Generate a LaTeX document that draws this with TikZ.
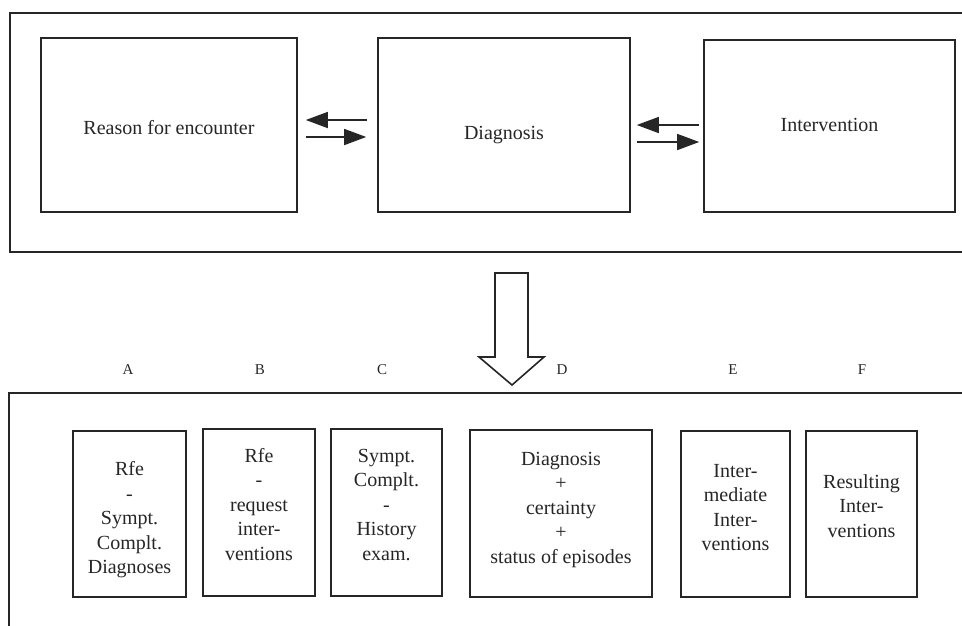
\documentclass[tikz,border=0pt]{standalone}
\usepackage{fontspec}
\setmainfont{Liberation Serif}
\usetikzlibrary{arrows.meta,calc}
\definecolor{ink}{HTML}{262626}
\newcommand\mvdown[2]{\raisebox{-#1}[\height][\depth]{\begin{tabular}{@{}c@{}}#2\end{tabular}}}
\begin{document}
\begin{tikzpicture}[x=1pt,y=-1pt,
  frame/.style={draw=ink,line width=2.8pt},
  bigbox/.style={draw=ink,line width=1.6pt,inner sep=0pt,align=center,
    font=\fontsize{20}{24.5}\selectfont,text=ink},
  smallbox/.style={draw=ink,line width=1.6pt,inner sep=0pt,align=center,
    font=\fontsize{20}{24.5}\selectfont,text=ink},
  colname/.style={font=\fontsize{15}{18}\selectfont,text=ink,inner sep=0pt},
  flow/.style={draw=ink,line width=1.5pt,-{Triangle[length=22pt,width=16pt]}},
  bigarrow/.style={draw=ink,line width=1.6pt,fill=white,line join=miter}]
\clip (0,0) rectangle (962,625);
\fill[white] (0,0) rectangle (962,625);
% frames
\draw[frame] (10,13) rectangle (985,252);
\draw[frame] (9,393) rectangle (985,660);
% top boxes
\node[bigbox,minimum width=256pt,minimum height=174pt] (rfe) at (169,125)
  {\mvdown{5pt}{Reason for encounter}};
\node[bigbox,minimum width=252pt,minimum height=174pt] (diag) at (504,125)
  {\mvdown{10pt}{Diagnosis}};
\node[bigbox,minimum width=251pt,minimum height=172pt] (interv) at (829.5,126)
  {\mvdown{1pt}{Intervention}};
% arrows between top boxes
\draw[flow,shorten <=10pt,shorten >=8pt] ($(diag.west)+(0,-5)$) -- ($(rfe.east)+(0,-5)$);
\draw[flow,shorten <=8pt,shorten >=11pt] ($(rfe.east)+(0,12)$) -- ($(diag.west)+(0,12)$);
\draw[flow,shorten <=4pt,shorten >=6pt] ($(interv.west)+(0,-1)$) -- ($(diag.east)+(0,0)$);
\draw[flow,shorten <=6pt,shorten >=4pt] ($(diag.east)+(0,17)$) -- ($(interv.west)+(0,16)$);
% big down arrow
\coordinate (dtip) at (512,385);
\draw[bigarrow] (495,273) -- (528,273) -- (528,357) -- (544,357) -- (dtip)
  -- (479,357) -- (495,357) -- cycle;
% column names
\node[colname] (la) at (128,370) {A};
\node[colname] (lb) at (260,370) {B};
\node[colname] (lc) at (382,370) {C};
\node[colname] (ld) at (562,370) {D};
\node[colname] (le) at (733,370) {E};
\node[colname] (lf) at (862,370) {F};
% bottom boxes
\node[smallbox,minimum width=113pt,minimum height=166pt] (ba) at (129.5,514)
  {\mvdown{6pt}{Rfe\\-\\Sympt.\\Complt.\\Diagnoses}};
\node[smallbox,minimum width=112pt,minimum height=167pt] (bb) at (259,512.5)
  {\mvdown{-6pt}{Rfe\\-\\request\\inter-\\ventions}};
\node[smallbox,minimum width=111pt,minimum height=167pt] (bc) at (386.5,512.5)
  {\mvdown{-6pt}{Sympt.\\Complt.\\-\\History\\exam.}};
\node[smallbox,minimum width=182pt,minimum height=167pt] (bd) at (561,513.5)
  {\mvdown{-4pt}{Diagnosis\\+\\certainty\\+\\status of episodes}};
\node[smallbox,minimum width=109pt,minimum height=166pt] (be) at (735.5,514)
  {\mvdown{-5pt}{Inter-\\mediate\\Inter-\\ventions}};
\node[smallbox,minimum width=111pt,minimum height=166pt] (bf) at (861.5,514)
  {\mvdown{-6pt}{Resulting\\Inter-\\ventions}};
\end{tikzpicture}
\end{document}
